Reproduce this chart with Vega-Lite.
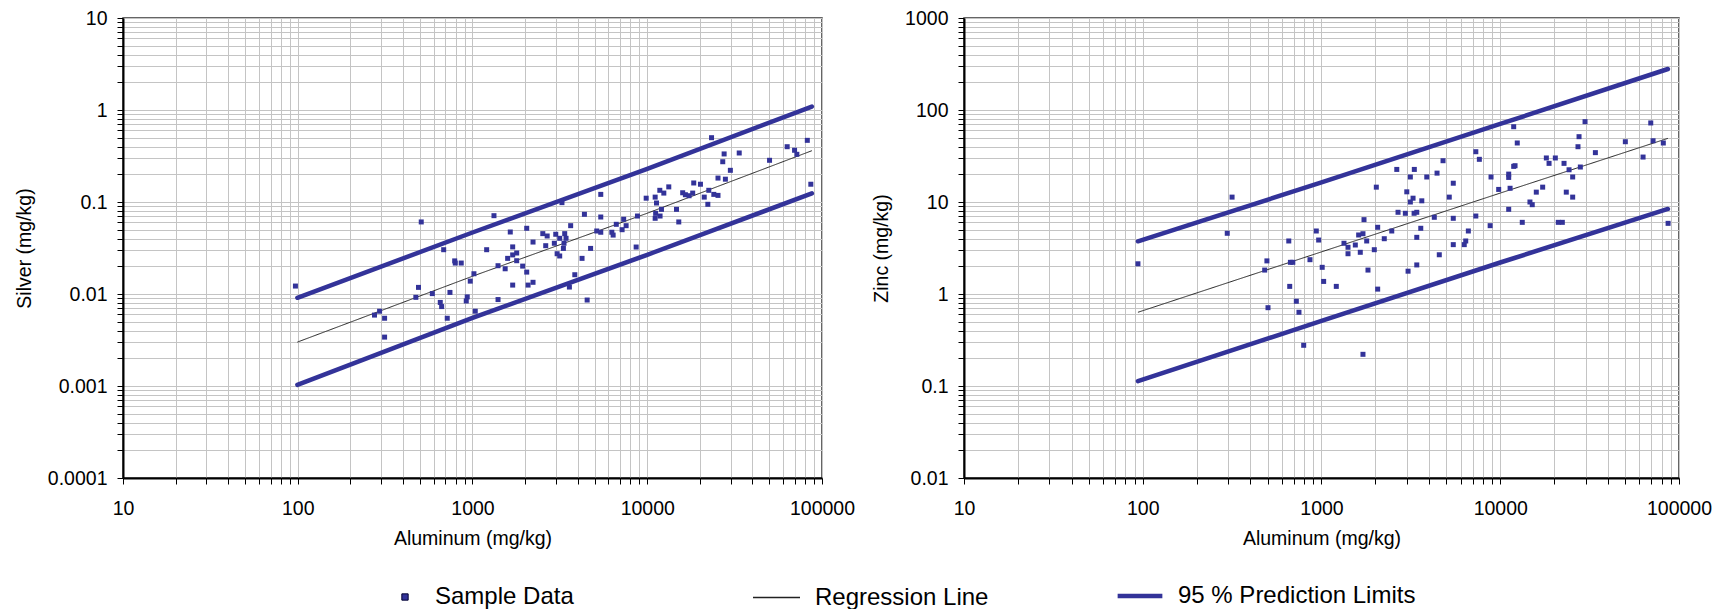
{
  "$schema": "https://vega.github.io/schema/vega-lite/v6.json",
  "padding": {"left": 13, "top": 7, "right": 5, "bottom": 0},
  "bounds": "flush",
  "spacing": 142,
  "datasets": {
    "ag_pts": [
      {"aluminum": 97, "value": 0.0122}, {"aluminum": 509, "value": 0.0607}, {"aluminum": 491, "value": 0.0118}, {"aluminum": 474, "value": 0.0092},
      {"aluminum": 294, "value": 0.0065}, {"aluminum": 275, "value": 0.0059}, {"aluminum": 314, "value": 0.00545}, {"aluminum": 314, "value": 0.0034},
      {"aluminum": 684, "value": 0.0303}, {"aluminum": 791, "value": 0.0229}, {"aluminum": 797, "value": 0.0217}, {"aluminum": 862, "value": 0.0217},
      {"aluminum": 589, "value": 0.0101}, {"aluminum": 654, "value": 0.0081}, {"aluminum": 666, "value": 0.0073}, {"aluminum": 743, "value": 0.0104},
      {"aluminum": 717, "value": 0.00545}, {"aluminum": 933, "value": 0.0093}, {"aluminum": 921, "value": 0.0084}, {"aluminum": 971, "value": 0.0138},
      {"aluminum": 1019, "value": 0.0166}, {"aluminum": 1037, "value": 0.0065}, {"aluminum": 1327, "value": 0.071}, {"aluminum": 1205, "value": 0.0303},
      {"aluminum": 1400, "value": 0.0203}, {"aluminum": 1400, "value": 0.0087}, {"aluminum": 1645, "value": 0.0472}, {"aluminum": 1698, "value": 0.0325},
      {"aluminum": 1589, "value": 0.0244}, {"aluminum": 1698, "value": 0.0266}, {"aluminum": 1790, "value": 0.0279}, {"aluminum": 1790, "value": 0.023},
      {"aluminum": 1538, "value": 0.0188}, {"aluminum": 1937, "value": 0.0201}, {"aluminum": 2043, "value": 0.0173}, {"aluminum": 1698, "value": 0.0125},
      {"aluminum": 2080, "value": 0.0125}, {"aluminum": 2220, "value": 0.0134}, {"aluminum": 2043, "value": 0.0518}, {"aluminum": 2220, "value": 0.0367},
      {"aluminum": 23330, "value": 0.5}, {"aluminum": 63200, "value": 0.399}, {"aluminum": 82400, "value": 0.468}, {"aluminum": 69660, "value": 0.365},
      {"aluminum": 71800, "value": 0.33}, {"aluminum": 86300, "value": 0.156}, {"aluminum": 50100, "value": 0.284}, {"aluminum": 33600, "value": 0.341},
      {"aluminum": 27540, "value": 0.333}, {"aluminum": 27040, "value": 0.274}, {"aluminum": 29900, "value": 0.221}, {"aluminum": 25400, "value": 0.182},
      {"aluminum": 28000, "value": 0.177}, {"aluminum": 18450, "value": 0.161}, {"aluminum": 20160, "value": 0.156}, {"aluminum": 22500, "value": 0.134},
      {"aluminum": 24040, "value": 0.121}, {"aluminum": 25400, "value": 0.118}, {"aluminum": 21190, "value": 0.113}, {"aluminum": 22220, "value": 0.0944},
      {"aluminum": 18200, "value": 0.125}, {"aluminum": 15950, "value": 0.126}, {"aluminum": 16530, "value": 0.12}, {"aluminum": 17360, "value": 0.117},
      {"aluminum": 13280, "value": 0.146}, {"aluminum": 11800, "value": 0.134}, {"aluminum": 12440, "value": 0.125}, {"aluminum": 11100, "value": 0.113},
      {"aluminum": 9860, "value": 0.11}, {"aluminum": 11300, "value": 0.0975}, {"aluminum": 12060, "value": 0.0832}, {"aluminum": 11170, "value": 0.0753},
      {"aluminum": 11840, "value": 0.0704}, {"aluminum": 11100, "value": 0.0665}, {"aluminum": 14700, "value": 0.0832}, {"aluminum": 15150, "value": 0.0607},
      {"aluminum": 8790, "value": 0.0704}, {"aluminum": 5420, "value": 0.121}, {"aluminum": 4370, "value": 0.0735}, {"aluminum": 5420, "value": 0.0687},
      {"aluminum": 3250, "value": 0.0984}, {"aluminum": 3645, "value": 0.0553}, {"aluminum": 7330, "value": 0.0649}, {"aluminum": 6650, "value": 0.0572},
      {"aluminum": 7570, "value": 0.0553}, {"aluminum": 7180, "value": 0.05}, {"aluminum": 5140, "value": 0.0484}, {"aluminum": 5420, "value": 0.0469},
      {"aluminum": 6270, "value": 0.0469}, {"aluminum": 6380, "value": 0.0437}, {"aluminum": 2525, "value": 0.0453}, {"aluminum": 2675, "value": 0.0427},
      {"aluminum": 2995, "value": 0.0446}, {"aluminum": 3155, "value": 0.0403}, {"aluminum": 3370, "value": 0.0453}, {"aluminum": 3430, "value": 0.0403},
      {"aluminum": 2624, "value": 0.0335}, {"aluminum": 2940, "value": 0.0356}, {"aluminum": 3340, "value": 0.0356}, {"aluminum": 3313, "value": 0.0313},
      {"aluminum": 3050, "value": 0.0274}, {"aluminum": 3155, "value": 0.0259}, {"aluminum": 4740, "value": 0.0313}, {"aluminum": 4235, "value": 0.0244},
      {"aluminum": 8640, "value": 0.0324}, {"aluminum": 3850, "value": 0.0162}, {"aluminum": 3585, "value": 0.0119}, {"aluminum": 4530, "value": 0.0086}
    ],
    "ag_lines": [
      {"aluminum": 99.5, "value": 0.003, "series": "Regression Line", "bound": "fit"},
      {"aluminum": 1000, "value": 0.0156, "series": "Regression Line", "bound": "fit"},
      {"aluminum": 10000, "value": 0.0755, "series": "Regression Line", "bound": "fit"},
      {"aluminum": 87500, "value": 0.361, "series": "Regression Line", "bound": "fit"},
      {"aluminum": 99.5, "value": 0.0091, "series": "95 % Prediction Limits", "bound": "upper"},
      {"aluminum": 1000, "value": 0.0466, "series": "95 % Prediction Limits", "bound": "upper"},
      {"aluminum": 10000, "value": 0.229, "series": "95 % Prediction Limits", "bound": "upper"},
      {"aluminum": 87500, "value": 1.09, "series": "95 % Prediction Limits", "bound": "upper"},
      {"aluminum": 99.5, "value": 0.00103, "series": "95 % Prediction Limits", "bound": "lower"},
      {"aluminum": 1000, "value": 0.0055, "series": "95 % Prediction Limits", "bound": "lower"},
      {"aluminum": 10000, "value": 0.0267, "series": "95 % Prediction Limits", "bound": "lower"},
      {"aluminum": 87500, "value": 0.124, "series": "95 % Prediction Limits", "bound": "lower"}
    ],
    "zn_pts": [
      {"aluminum": 94, "value": 2.13}, {"aluminum": 316, "value": 11.3}, {"aluminum": 297, "value": 4.57},
      {"aluminum": 495, "value": 2.29}, {"aluminum": 481, "value": 1.82}, {"aluminum": 502, "value": 0.71}, {"aluminum": 656, "value": 3.77},
      {"aluminum": 670, "value": 2.21}, {"aluminum": 691, "value": 2.21}, {"aluminum": 664, "value": 1.21}, {"aluminum": 723, "value": 0.834},
      {"aluminum": 748, "value": 0.633}, {"aluminum": 795, "value": 0.277}, {"aluminum": 935, "value": 4.84}, {"aluminum": 964, "value": 3.86},
      {"aluminum": 862, "value": 2.36}, {"aluminum": 1009, "value": 1.95}, {"aluminum": 1028, "value": 1.37}, {"aluminum": 1210, "value": 1.21},
      {"aluminum": 1336, "value": 3.56}, {"aluminum": 1407, "value": 3.22}, {"aluminum": 1407, "value": 2.74}, {"aluminum": 1546, "value": 3.41},
      {"aluminum": 1648, "value": 2.84}, {"aluminum": 1729, "value": 6.43}, {"aluminum": 1614, "value": 4.38}, {"aluminum": 1706, "value": 4.52},
      {"aluminum": 1790, "value": 3.77}, {"aluminum": 1820, "value": 1.82}, {"aluminum": 1974, "value": 3.03}, {"aluminum": 2026, "value": 14.5},
      {"aluminum": 2062, "value": 5.31}, {"aluminum": 2062, "value": 1.13}, {"aluminum": 2245, "value": 3.99}, {"aluminum": 1706, "value": 0.221},
      {"aluminum": 2472, "value": 4.84}, {"aluminum": 2637, "value": 22.6}, {"aluminum": 2680, "value": 7.73}, {"aluminum": 2945, "value": 7.54},
      {"aluminum": 3000, "value": 12.9}, {"aluminum": 3141, "value": 18.7}, {"aluminum": 3306, "value": 22.6}, {"aluminum": 3252, "value": 11.0},
      {"aluminum": 3141, "value": 10.0}, {"aluminum": 3640, "value": 10.3}, {"aluminum": 3296, "value": 7.54}, {"aluminum": 3412, "value": 7.73},
      {"aluminum": 3592, "value": 5.18}, {"aluminum": 3412, "value": 4.13}, {"aluminum": 3412, "value": 2.07}, {"aluminum": 3050, "value": 1.77},
      {"aluminum": 3881, "value": 18.7}, {"aluminum": 4430, "value": 20.6}, {"aluminum": 4785, "value": 28.1}, {"aluminum": 5460, "value": 16.0},
      {"aluminum": 5185, "value": 11.3}, {"aluminum": 4276, "value": 6.82}, {"aluminum": 5460, "value": 6.65}, {"aluminum": 4560, "value": 2.67},
      {"aluminum": 5460, "value": 3.44}, {"aluminum": 6290, "value": 3.44}, {"aluminum": 6410, "value": 3.77}, {"aluminum": 6630, "value": 4.84},
      {"aluminum": 11890, "value": 65.8}, {"aluminum": 12450, "value": 43.8}, {"aluminum": 7300, "value": 35.2}, {"aluminum": 7640, "value": 29.1},
      {"aluminum": 8880, "value": 18.7}, {"aluminum": 11150, "value": 20.1}, {"aluminum": 11150, "value": 18.5}, {"aluminum": 11890, "value": 24.4},
      {"aluminum": 12100, "value": 24.8}, {"aluminum": 9800, "value": 13.7}, {"aluminum": 11350, "value": 14.1}, {"aluminum": 7300, "value": 7.04},
      {"aluminum": 8780, "value": 5.53}, {"aluminum": 11150, "value": 8.33}, {"aluminum": 13280, "value": 6.01}, {"aluminum": 14660, "value": 10.0},
      {"aluminum": 15100, "value": 9.35}, {"aluminum": 15910, "value": 12.8}, {"aluminum": 17270, "value": 14.5}, {"aluminum": 18110, "value": 30.1},
      {"aluminum": 18750, "value": 26.3}, {"aluminum": 20330, "value": 30.1}, {"aluminum": 22740, "value": 26.3}, {"aluminum": 24260, "value": 22.4},
      {"aluminum": 25420, "value": 18.7}, {"aluminum": 23410, "value": 12.8}, {"aluminum": 25420, "value": 11.3}, {"aluminum": 27220, "value": 39.9},
      {"aluminum": 27590, "value": 51.3}, {"aluminum": 29810, "value": 74.7}, {"aluminum": 28060, "value": 24.0}, {"aluminum": 34060, "value": 34.4},
      {"aluminum": 21120, "value": 6.01}, {"aluminum": 22250, "value": 6.01}, {"aluminum": 50100, "value": 45.2}, {"aluminum": 62950, "value": 30.8},
      {"aluminum": 69500, "value": 72.3}, {"aluminum": 71600, "value": 46.3}, {"aluminum": 81700, "value": 43.8}, {"aluminum": 86900, "value": 5.86}
    ],
    "zn_lines": [
      {"aluminum": 94, "value": 0.633, "series": "Regression Line", "bound": "fit"},
      {"aluminum": 1000, "value": 2.87, "series": "Regression Line", "bound": "fit"},
      {"aluminum": 10000, "value": 12.5, "series": "Regression Line", "bound": "fit"},
      {"aluminum": 86700, "value": 49.2, "series": "Regression Line", "bound": "fit"},
      {"aluminum": 94, "value": 3.74, "series": "95 % Prediction Limits", "bound": "upper"},
      {"aluminum": 1000, "value": 16.3, "series": "95 % Prediction Limits", "bound": "upper"},
      {"aluminum": 10000, "value": 70.5, "series": "95 % Prediction Limits", "bound": "upper"},
      {"aluminum": 86700, "value": 279, "series": "95 % Prediction Limits", "bound": "upper"},
      {"aluminum": 94, "value": 0.113, "series": "95 % Prediction Limits", "bound": "lower"},
      {"aluminum": 1000, "value": 0.51, "series": "95 % Prediction Limits", "bound": "lower"},
      {"aluminum": 10000, "value": 2.2, "series": "95 % Prediction Limits", "bound": "lower"},
      {"aluminum": 86700, "value": 8.4, "series": "95 % Prediction Limits", "bound": "lower"}
    ]
  },
  "hconcat": [
    {
      "width": 699,
      "height": 460,
      "encoding": {
        "x": {
          "field": "aluminum", "type": "quantitative",
          "scale": {"type": "log", "domain": [10, 100000], "nice": false},
          "axis": {
            "title": "Aluminum (mg/kg)",
            "values": [10,20,30,40,50,60,70,80,90,100,200,300,400,500,600,700,800,900,1000,2000,3000,4000,5000,6000,7000,8000,9000,10000,20000,30000,40000,50000,60000,70000,80000,90000,100000],
            "format": "~g",
            "labelExpr": "indexof([10,100,1000,10000,100000], datum.value) >= 0 ? datum.label : ''",
            "labelPadding": 15, "titlePadding": 12
          }
        },
        "y": {
          "field": "value", "type": "quantitative",
          "scale": {"type": "log", "domain": [0.0001, 10], "nice": false},
          "axis": {
            "title": "Silver (mg/kg)",
            "values": [0.0001,0.0002,0.0003,0.0004,0.0005,0.0006,0.0007,0.0008,0.0009,0.001,0.002,0.003,0.004,0.005,0.006,0.007,0.008,0.009,0.01,0.02,0.03,0.04,0.05,0.06,0.07,0.08,0.09,0.1,0.2,0.3,0.4,0.5,0.6,0.7,0.8,0.9,1,2,3,4,5,6,7,8,9,10],
            "format": "~g",
            "labelExpr": "indexof([0.0001,0.001,0.01,0.1,1,10], datum.value) >= 0 ? datum.label : ''",
            "labelPadding": 10, "titlePadding": 13
          }
        }
      },
      "layer": [
        {
          "data": {"name": "ag_lines"},
          "transform": [{"filter": "datum.series === '95 % Prediction Limits'"}],
          "mark": {"type": "line", "color": "#333399", "strokeCap": "round"},
          "encoding": {
            "detail": {"field": "bound"},
            "strokeWidth": {
              "datum": "95 % Prediction Limits",
              "type": "ordinal",
              "scale": {"domain": ["95 % Prediction Limits"], "range": [4.5, 4.5]},
              "legend": {
                "title": null, "orient": "none", "legendX": 992, "legendY": 553,
                "direction": "horizontal", "symbolType": "stroke", "symbolSize": 2000,
                "symbolStrokeColor": "#333399", "labelOffset": 13,
                "labelFont": "Liberation Sans", "labelFontSize": 24, "labelColor": "#000000", "labelLimit": 400, "padding": 0
              }
            }
          }
        },
        {
          "data": {"name": "ag_lines"},
          "transform": [{"filter": "datum.series === 'Regression Line'"}],
          "mark": {"type": "line", "color": "#222222", "strokeWidth": 1},
          "encoding": {
            "strokeDash": {
              "datum": "Regression Line",
              "type": "nominal",
              "scale": {"domain": ["Regression Line"], "range": [[1, 0]]},
              "legend": {
                "title": null, "orient": "none", "legendX": 629, "legendY": 555,
                "direction": "horizontal", "symbolType": "stroke", "symbolSize": 2209,
                "symbolStrokeColor": "#000000", "symbolStrokeWidth": 1.3, "labelOffset": 14,
                "labelFont": "Liberation Sans", "labelFontSize": 24, "labelColor": "#000000", "labelLimit": 400, "padding": 0
              }
            }
          }
        },
        {
          "data": {"name": "ag_pts"},
          "mark": {"type": "point", "shape": "square", "filled": true, "size": 25, "opacity": 1},
          "encoding": {
            "color": {
              "datum": "Sample Data",
              "type": "nominal",
              "scale": {"domain": ["Sample Data"], "range": ["#333399"]},
              "legend": {
                "title": null, "orient": "none", "legendX": 270, "legendY": 567,
                "direction": "horizontal", "symbolType": "square", "symbolSize": 40,
                "symbolFillColor": "#1a1a80", "symbolStrokeColor": "#000033", "symbolStrokeWidth": 1, "labelOffset": 18,
                "labelFont": "Liberation Sans", "labelFontSize": 24, "labelColor": "#000000", "labelLimit": 400, "padding": 0
              }
            }
          }
        }
      ]
    },
    {
      "width": 715,
      "height": 460,
      "encoding": {
        "x": {
          "field": "aluminum", "type": "quantitative",
          "scale": {"type": "log", "domain": [10, 100000], "nice": false},
          "axis": {
            "title": "Aluminum (mg/kg)",
            "values": [10,20,30,40,50,60,70,80,90,100,200,300,400,500,600,700,800,900,1000,2000,3000,4000,5000,6000,7000,8000,9000,10000,20000,30000,40000,50000,60000,70000,80000,90000,100000],
            "format": "~g",
            "labelExpr": "indexof([10,100,1000,10000,100000], datum.value) >= 0 ? datum.label : ''",
            "labelPadding": 15, "titlePadding": 12
          }
        },
        "y": {
          "field": "value", "type": "quantitative",
          "scale": {"type": "log", "domain": [0.01, 1000], "nice": false},
          "axis": {
            "title": "Zinc (mg/kg)",
            "values": [0.01,0.02,0.03,0.04,0.05,0.06,0.07,0.08,0.09,0.1,0.2,0.3,0.4,0.5,0.6,0.7,0.8,0.9,1,2,3,4,5,6,7,8,9,10,20,30,40,50,60,70,80,90,100,200,300,400,500,600,700,800,900,1000],
            "format": "~g",
            "labelExpr": "indexof([0.01,0.1,1,10,100,1000], datum.value) >= 0 ? datum.label : ''",
            "labelPadding": 10, "titlePadding": 13
          }
        }
      },
      "layer": [
        {
          "data": {"name": "zn_lines"},
          "transform": [{"filter": "datum.series === '95 % Prediction Limits'"}],
          "mark": {"type": "line", "color": "#333399", "strokeCap": "round"},
          "encoding": {
            "detail": {"field": "bound"},
            "strokeWidth": {"datum": "95 % Prediction Limits", "type": "ordinal"}
          }
        },
        {
          "data": {"name": "zn_lines"},
          "transform": [{"filter": "datum.series === 'Regression Line'"}],
          "mark": {"type": "line", "color": "#222222", "strokeWidth": 1},
          "encoding": {
            "strokeDash": {"datum": "Regression Line", "type": "nominal"}
          }
        },
        {
          "data": {"name": "zn_pts"},
          "mark": {"type": "point", "shape": "square", "filled": true, "size": 25, "opacity": 1},
          "encoding": {
            "color": {"datum": "Sample Data", "type": "nominal"}
          }
        }
      ]
    }
  ],
  "config": {
    "font": "Liberation Sans",
    "background": "#ffffff",
    "view": {"stroke": "#333333", "strokeWidth": 1.5},
    "axis": {
      "grid": true,
      "gridColor": "#c4c4c4",
      "gridWidth": 1,
      "domainColor": "#000000",
      "domainWidth": 2,
      "tickColor": "#000000",
      "tickSize": 6,
      "tickWidth": 1,
      "labelFont": "Liberation Sans",
      "labelFontSize": 19.5,
      "labelColor": "#000000",
      "titleFont": "Liberation Sans",
      "titleFontSize": 19.5,
      "titleFontWeight": "normal",
      "titleColor": "#000000",
      "labelFlush": false,
      "labelOverlap": false,
      "labelBound": false
    }
  }
}
